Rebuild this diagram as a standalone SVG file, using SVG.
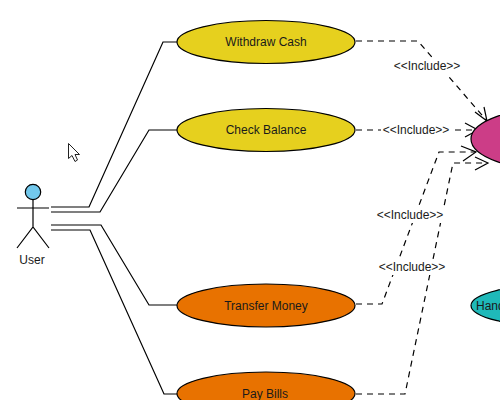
<svg xmlns="http://www.w3.org/2000/svg" width="500" height="400" viewBox="0 0 500 400">
<style>
text{font-family:"Liberation Sans",Arial,sans-serif;font-size:12px;fill:#1a1a1a;text-anchor:middle}
.n{stroke:#000;stroke-width:1.2}
.c{fill:none;stroke:#000;stroke-width:1.2}
.d{fill:none;stroke:#000;stroke-width:1.2;stroke-dasharray:6 5}
.a{fill:none;stroke:#000;stroke-width:1.2}
.y{fill:#e6d01e}.o{fill:#e87200}
</style>
<rect width="500" height="400" fill="#fff"/>
<g id="connectors">
<path class="c" d="M51 207H89L163 42H177"/>
<path class="c" d="M51 212H100L149 130H177"/>
<path class="c" d="M51 225H101L149 305H177"/>
<path class="c" d="M51 230H90L164 394H177"/>
<path class="d" d="M356 41H418L487 121"/>
<path class="d" d="M356 130H472"/>
<path class="d" d="M356 304H382L439 152H475"/>
<path class="d" d="M356 394H405L453 163H487"/>
<path class="a" d="M475 112L487 121L484 107"/>
<path class="a" d="M465 123L478 130L465 137"/>
<path class="a" d="M461 146L476 152L463 161"/>
<path class="a" d="M475 157L488 163L475 170"/>
</g>
<g id="user">
<circle class="n" cx="33" cy="192" r="7.7" fill="#72c8ec"/>
<path class="c" d="M33 200V227M17 208H49M17 248L33 227L49 248"/>
<text x="32" y="264">User</text>
</g>
<g id="withdraw-cash"><ellipse class="n y" cx="266" cy="42" rx="89" ry="21.500"/><text x="266" y="46">Withdraw Cash</text></g>
<g id="check-balance"><ellipse class="n y" cx="266" cy="130" rx="89" ry="21.500"/><text x="266" y="134">Check Balance</text></g>
<g id="transfer-money"><ellipse class="n o" cx="266" cy="305.500" rx="89" ry="21.500"/><text x="266" y="310">Transfer Money</text></g>
<g id="pay-bills"><ellipse class="n o" cx="266" cy="393.500" rx="89" ry="21.500"/><text x="265" y="398">Pay Bills</text></g>
<g id="authentication"><ellipse class="n" cx="560" cy="139" rx="89" ry="32" fill="#cc3d87"/></g>
<g id="handle"><ellipse class="n" cx="560" cy="305.500" rx="89" ry="21.500" fill="#1fb9b9"/><text x="476" y="310" style="text-anchor:start">Handle</text></g>
<g id="labels">
<rect x="392" y="58" width="70" height="16" fill="#fff"/><text x="427" y="70">&lt;&lt;Include&gt;&gt;</text>
<rect x="381" y="122" width="70" height="16" fill="#fff"/><text x="416" y="134">&lt;&lt;Include&gt;&gt;</text>
<rect x="375" y="207" width="70" height="16" fill="#fff"/><text x="410" y="219">&lt;&lt;Include&gt;&gt;</text>
<rect x="377" y="259" width="70" height="16" fill="#fff"/><text x="412" y="271">&lt;&lt;Include&gt;&gt;</text>
</g>
<path id="cursor" d="M68.500 143.500V158.500L72 155.500L75 161.500L77.500 160L75 154.500H79.500Z" fill="#fff" stroke="#222" stroke-width="1"/>
</svg>
